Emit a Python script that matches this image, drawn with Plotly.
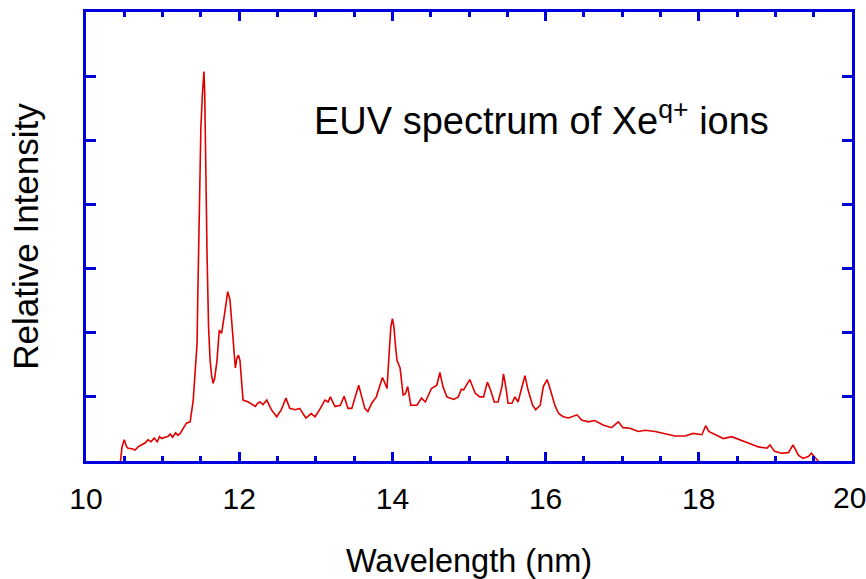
import plotly.graph_objects as go

wavelength = [10.45, 10.47, 10.50, 10.53, 10.55, 10.60, 10.64, 10.68, 10.72, 10.77, 10.81, 10.85, 10.89, 10.93,
              10.96, 10.99, 11.03, 11.07, 11.10, 11.13, 11.17, 11.20, 11.23, 11.27, 11.31, 11.36, 11.38, 11.40,
              11.42, 11.45, 11.46, 11.47, 11.48, 11.50, 11.52, 11.53, 11.54, 11.55, 11.56, 11.58, 11.60, 11.62,
              11.64, 11.66, 11.68, 11.71, 11.74, 11.77, 11.81, 11.85, 11.88, 11.91, 11.93, 11.95, 11.97, 11.99,
              12.01, 12.03, 12.05, 12.12, 12.17, 12.21, 12.24, 12.27, 12.31, 12.36, 12.42, 12.49, 12.55, 12.61,
              12.66, 12.73, 12.79, 12.83, 12.87, 12.94, 12.99, 13.05, 13.12, 13.16, 13.19, 13.25, 13.32, 13.37,
              13.42, 13.47, 13.52, 13.56, 13.60, 13.64, 13.68, 13.73, 13.79, 13.84, 13.87, 13.90, 13.93, 13.96,
              13.98, 14.00, 14.02, 14.04, 14.06, 14.10, 14.14, 14.17, 14.20, 14.24, 14.32, 14.38, 14.43, 14.51,
              14.58, 14.62, 14.66, 14.71, 14.80, 14.86, 14.90, 14.93, 14.97, 15.01, 15.04, 15.08, 15.14, 15.19,
              15.24, 15.28, 15.33, 15.38, 15.43, 15.45, 15.48, 15.51, 15.56, 15.60, 15.64, 15.69, 15.73, 15.77,
              15.83, 15.87, 15.93, 15.97, 16.02, 16.07, 16.12, 16.17, 16.23, 16.30, 16.36, 16.41, 16.47, 16.56,
              16.64, 16.75, 16.86, 16.95, 17.01, 17.10, 17.21, 17.30, 17.43, 17.56, 17.69, 17.82, 17.93, 18.04,
              18.09, 18.13, 18.21, 18.32, 18.43, 18.54, 18.65, 18.78, 18.89, 18.93, 18.99, 19.08, 19.17, 19.23,
              19.30, 19.36, 19.43, 19.47, 19.52, 19.56]

intensity = [0.00, 0.22, 0.33, 0.22, 0.20, 0.19, 0.17, 0.22, 0.25, 0.28, 0.33, 0.30, 0.36, 0.30,
             0.38, 0.35, 0.37, 0.38, 0.42, 0.37, 0.44, 0.40, 0.43, 0.52, 0.59, 0.61, 0.75, 0.95,
             1.31, 1.83, 2.61, 3.13, 4.17, 5.21, 5.73, 5.95, 6.07, 5.73, 4.69, 3.24, 2.09, 1.57,
             1.33, 1.21, 1.29, 1.57, 2.04, 1.99, 2.30, 2.64, 2.51, 2.09, 1.75, 1.45, 1.60, 1.65,
             1.57, 1.25, 0.95, 0.92, 0.88, 0.85, 0.90, 0.92, 0.88, 0.95, 0.80, 0.69, 0.80, 0.98,
             0.82, 0.80, 0.82, 0.74, 0.67, 0.74, 0.69, 0.80, 0.95, 0.92, 1.00, 0.85, 0.87, 1.01,
             0.82, 0.82, 1.00, 1.18, 1.00, 0.82, 0.77, 0.90, 1.00, 1.18, 1.30, 1.22, 1.13, 1.73,
             2.09, 2.22, 2.09, 1.80, 1.57, 1.45, 1.03, 1.05, 1.16, 0.87, 0.87, 0.98, 0.92, 1.13,
             1.18, 1.38, 1.16, 1.00, 0.96, 1.00, 1.12, 1.11, 1.20, 1.27, 1.18, 1.06, 1.00, 1.00,
             1.23, 1.11, 0.92, 0.92, 1.16, 1.36, 1.16, 0.90, 0.90, 1.00, 0.92, 1.16, 1.33, 1.11,
             0.87, 0.80, 0.87, 1.16, 1.27, 1.08, 0.87, 0.74, 0.69, 0.67, 0.70, 0.72, 0.64, 0.61,
             0.63, 0.56, 0.52, 0.61, 0.52, 0.51, 0.46, 0.48, 0.46, 0.43, 0.39, 0.39, 0.43, 0.41,
             0.55, 0.46, 0.41, 0.35, 0.38, 0.33, 0.29, 0.22, 0.20, 0.25, 0.15, 0.12, 0.13, 0.25,
             0.09, 0.04, 0.07, 0.12, 0.05, 0.00]

x_ticks = [10, 12, 14, 16, 18, 20]

AXIS_BLUE = "#0000dd"
FONT = "Liberation Sans, Arial, sans-serif"

fig = go.Figure()
fig.add_trace(go.Scatter(x=wavelength, y=intensity, mode="lines",
                         line=dict(color="#e00000", width=1.6), showlegend=False))

# last tick label drawn as an annotation so it stays fully inside the page
last_label = dict(text=str(x_ticks[-1]), x=x_ticks[-1], xref="x", y=0, yref="paper",
                  xanchor="center", yanchor="middle", xshift=-3, yshift=-36,
                  showarrow=False, font=dict(size=30, family=FONT, color="black"))

fig.update_layout(
    width=866, height=579,
    margin=dict(l=86, r=14, t=12, b=118, autoexpand=False),
    paper_bgcolor="white", plot_bgcolor="white",
    font=dict(family=FONT, color="black"),
    annotations=[dict(text="EUV spectrum of Xe<sup>q+</sup> ions", x=0.595, y=0.765,
                      xref="paper", yref="paper", xanchor="center", yanchor="middle",
                      showarrow=False, font=dict(size=38, family=FONT, color="black")),
                 last_label],
)

fig.update_xaxes(
    range=[10, 20], tickvals=x_ticks[:-1], ticktext=[str(v) for v in x_ticks[:-1]],
    automargin=False,
    showgrid=False, zeroline=False,
    showline=True, linecolor=AXIS_BLUE, linewidth=3, mirror="ticks",
    ticks="inside", ticklen=9, tickwidth=3, tickcolor=AXIS_BLUE,
    minor=dict(dtick=0.5, tick0=10, ticks="inside", ticklen=5, tickwidth=3, tickcolor=AXIS_BLUE, showgrid=False),
    tickfont=dict(size=30, family=FONT, color="black"),
    ticklabelstandoff=9,
    title=dict(text="Wavelength (nm)", font=dict(size=32.5, family=FONT, color="black"), standoff=40),
)
fig.update_yaxes(
    range=[0, 7], dtick=1, tick0=0,
    automargin=False,
    showgrid=False, zeroline=False,
    showline=True, linecolor=AXIS_BLUE, linewidth=3, mirror="ticks",
    ticks="inside", ticklen=10, tickwidth=3, tickcolor=AXIS_BLUE,
    showticklabels=False,
    title=dict(text="Relative Intensity", font=dict(size=35, family=FONT, color="black"), standoff=34),
)

fig.write_html("out.html")
